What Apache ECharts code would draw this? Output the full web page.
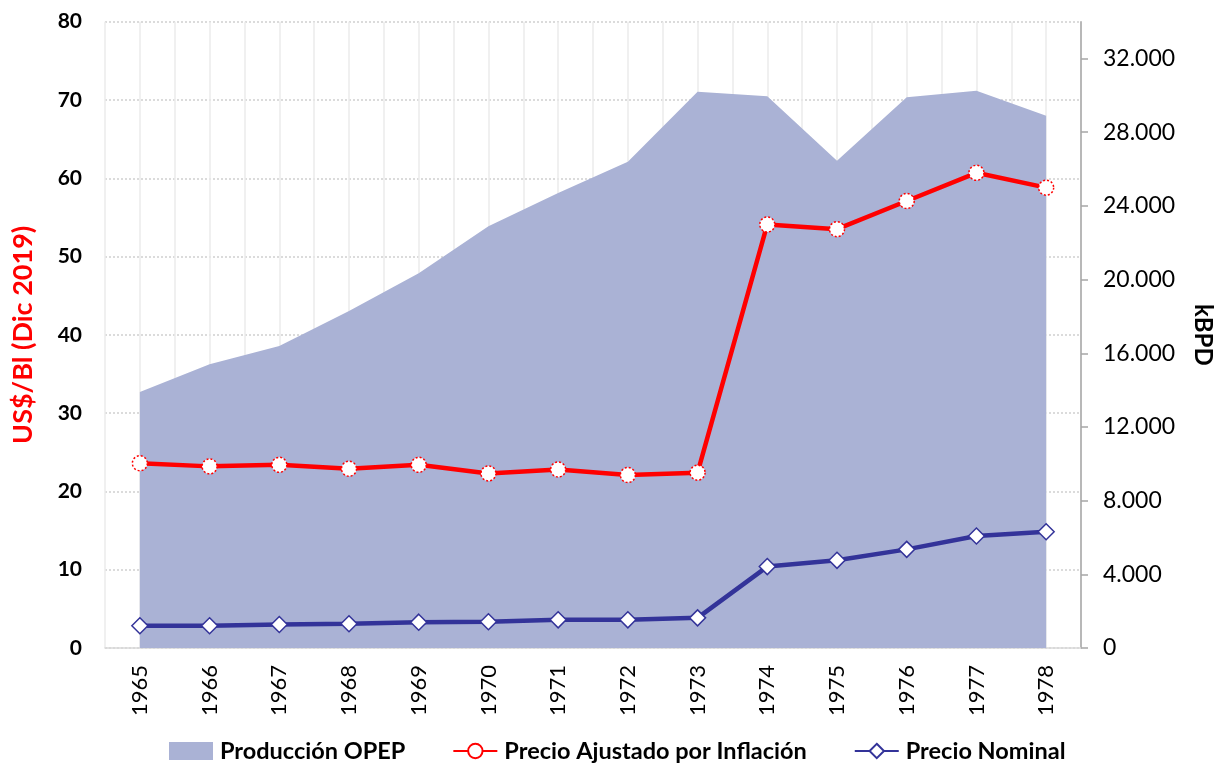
<!DOCTYPE html>
<html>
<head>
<meta charset="utf-8">
<script src="https://cdn.jsdelivr.net/npm/echarts@6/dist/echarts.min.js"></script>
<style>html,body{margin:0;padding:0;background:#fff;}#c{width:1223px;height:768px;}</style>
</head>
<body>
<div id="c"></div>
<script>
const years = ['1965','1966','1967','1968','1969','1970','1971','1972','1973','1974','1975','1976','1977','1978'];
const produccionOPEP = [13900, 15400, 16400, 18300, 20350, 22900, 24700, 26400, 30200, 29950, 26450, 29900, 30250, 28900];
const precioAjustado = [23.6, 23.2, 23.4, 22.9, 23.4, 22.3, 22.8, 22.1, 22.4, 54.1, 53.5, 57.1, 60.7, 58.8];
const precioNominal = [2.85, 2.85, 3.0, 3.1, 3.3, 3.35, 3.6, 3.6, 3.85, 10.4, 11.2, 12.6, 14.3, 14.85];

const FONT = 'Lato';
const fmtThousands = v => String(v).replace(/\B(?=(\d{3})+(?!\d))/g, '.');

const chart = echarts.init(document.getElementById('c'), null, {renderer: 'canvas'});
chart.setOption({
  animation: false,
  textStyle: {fontFamily: FONT},
  grid: {left: 105, right: 142, top: 21.7, bottom: 120, containLabel: false},
  legend: {
    top: 739, left: 169, itemGap: 47, itemWidth: 44, itemHeight: 18, padding: 0,
    textStyle: {fontFamily: FONT, fontWeight: 'bold', fontSize: 23.5, color: '#000', padding: [0, 0, 0, 2]},
    data: [
      {name: 'Producción OPEP', icon: 'rect'},
      {name: 'Precio Ajustado por Inflación'},
      {name: 'Precio Nominal'}
    ]
  },
  xAxis: [
    {
      type: 'category', data: years, boundaryGap: true,
      axisLine: {show: true, lineStyle: {color: '#d9d9d9', width: 1.5}},
      axisTick: {show: false},
      axisLabel: {rotate: 90, interval: 0, margin: 17, fontSize: 22, color: '#000', fontFamily: FONT},
      splitLine: {show: false}
    },
    {
      type: 'value', min: 0, max: 28, interval: 1, position: 'bottom',
      axisLine: {show: false}, axisTick: {show: false}, axisLabel: {show: false},
      splitLine: {show: true, lineStyle: {color: '#ebebeb', width: 1.5}}
    }
  ],
  yAxis: [
    {
      type: 'value', min: 0, max: 80, interval: 10, position: 'left',
      name: 'US$/Bl (Dic 2019)', nameLocation: 'middle', nameGap: 68,
      nameTextStyle: {color: '#ff0000', fontWeight: 'bold', fontSize: 27, fontFamily: FONT},
      axisLine: {show: false}, axisTick: {show: false},
      axisLabel: {color: '#000', fontWeight: 'bold', fontSize: 21, margin: 23, fontFamily: FONT},
      splitLine: {show: true, lineStyle: {color: '#cfcfcf', type: [2, 2], width: 1.5}}
    },
    {
      type: 'value', min: 0, max: 34000, interval: 4000, position: 'right',
      name: 'kBPD', nameLocation: 'middle', nameGap: 110, nameRotate: -90,
      nameTextStyle: {color: '#000', fontWeight: 'bold', fontSize: 24, fontFamily: FONT},
      axisLine: {show: true, lineStyle: {color: '#a6a6a6', width: 1.5}},
      axisTick: {show: true, inside: false, length: 7, lineStyle: {color: '#a6a6a6', width: 1.5}},
      axisLabel: {color: '#000', fontSize: 23, margin: 22, showMaxLabel: false, fontFamily: FONT,
        formatter: v => fmtThousands(v)},
      splitLine: {show: false}
    }
  ],
  series: [
    {
      name: 'Producción OPEP', type: 'line', yAxisIndex: 1, data: produccionOPEP,
      symbol: 'none', lineStyle: {width: 0}, itemStyle: {color: '#aab2d5'},
      areaStyle: {color: '#aab2d5', opacity: 1}, z: 1
    },
    {
      name: 'Precio Ajustado por Inflación', type: 'line', yAxisIndex: 0, data: precioAjustado,
      symbol: 'circle', symbolSize: 15,
      lineStyle: {color: '#ff0000', width: 4.5},
      itemStyle: {color: '#ffffff', borderColor: '#ff0000', borderWidth: 1.5, borderType: [2, 2]},
      z: 3
    },
    {
      name: 'Precio Nominal', type: 'line', yAxisIndex: 0, data: precioNominal,
      symbol: 'diamond', symbolSize: 16,
      lineStyle: {color: '#333399', width: 4.5},
      itemStyle: {color: '#ffffff', borderColor: '#333399', borderWidth: 1.5},
      z: 3
    }
  ]
});
</script>
</body>
</html>
